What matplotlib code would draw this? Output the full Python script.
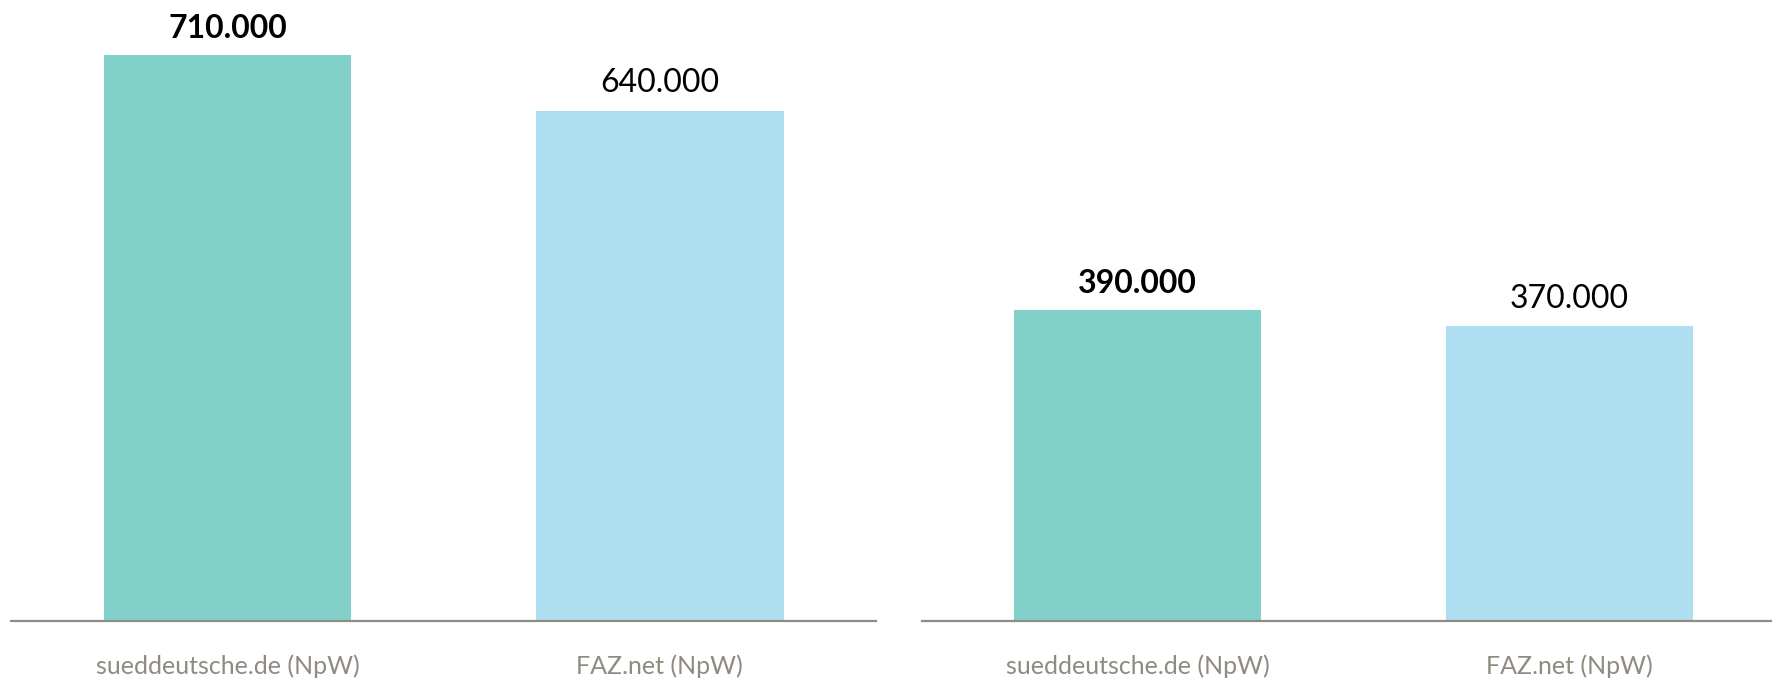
import matplotlib
matplotlib.use("Agg")
import matplotlib.pyplot as plt

categories = ["sueddeutsche.de (NpW)", "FAZ.net (NpW)"]
left_values = [710000, 640000]
right_values = [390000, 370000]
value_labels_left = ["710.000", "640.000"]
value_labels_right = ["390.000", "370.000"]
bold_flags = [True, False]

colors = ["#81d1ca", "#addff1"]
axis_gray = "#8f8c84"
label_gray = "#8f8b80"

plt.rcParams['font.family'] = ['Lato', 'DejaVu Sans']

W, H = 1772, 679
fig = plt.figure(figsize=(W / 100, H / 100), dpi=100)

base = 58
ymax = 779000

def make_ax(x0, x1, xlim, values, labels):
    ax = fig.add_axes([x0 / W, base / H, (x1 - x0) / W, (H - base) / H])
    ax.bar(range(len(values)), values, width=0.573, color=colors)
    ax.set_xlim(*xlim)
    ax.set_ylim(0, ymax)
    for s in ["top", "right", "left"]:
        ax.spines[s].set_visible(False)
    ax.spines["bottom"].set_color(axis_gray)
    ax.spines["bottom"].set_linewidth(1.6)
    ax.set_yticks([])
    ax.set_xticks(range(len(categories)))
    ax.set_xticklabels(categories, color=label_gray, fontsize=18)
    ax.tick_params(axis="x", length=0, pad=24)
    for i, (v, lab) in enumerate(zip(values, labels)):
        ax.annotate(lab, (i, v), xytext=(0, 9), textcoords="offset points",
                    ha="center", va="bottom", fontsize=23,
                    fontweight="bold" if bold_flags[i] else "normal",
                    color="black")
    ax.patch.set_alpha(0)
    return ax

make_ax(11.3, 876, (-0.5, 1.5), left_values, value_labels_left)
make_ax(922, 1772, (-0.5, 1.47), right_values, value_labels_right)

fig.savefig("out.png", dpi=100)
